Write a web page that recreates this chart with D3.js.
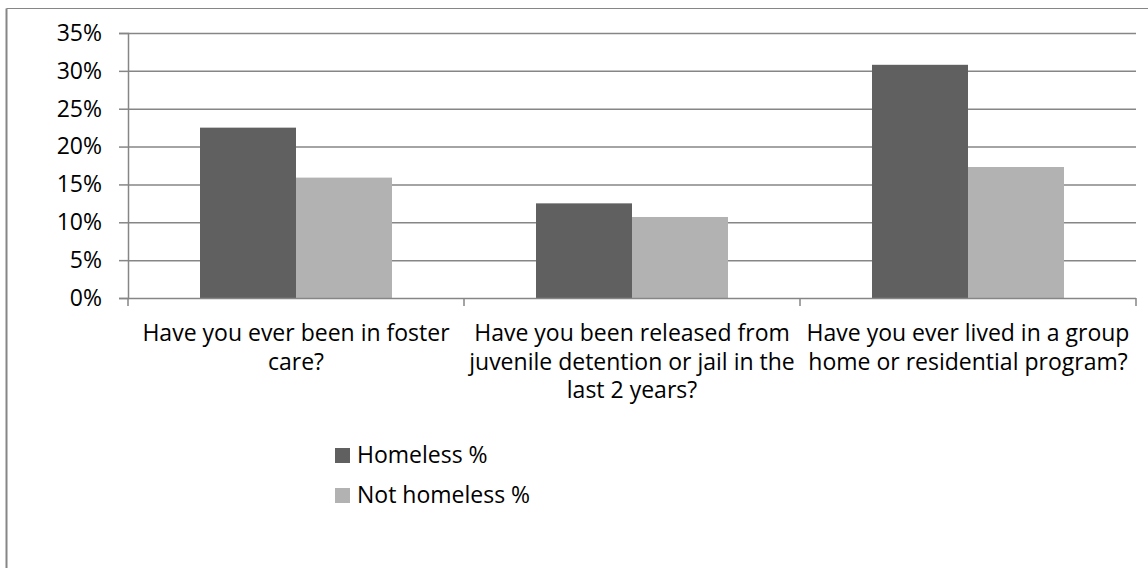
<!DOCTYPE html>
<html>
<head>
<meta charset="utf-8">
<script src="https://cdn.jsdelivr.net/npm/d3@7"></script>
<style>
  html, body { margin: 0; padding: 0; background: #fff; }
  svg { display: block; }
  text { font-family: "Open Sans", Lato, sans-serif; fill: #000; }
</style>
</head>
<body>
<svg id="chart" width="1148" height="568"></svg>
<script>
const categories = [
  ["Have you ever been in foster", "care?"],
  ["Have you been released from", "juvenile detention or jail in the", "last 2 years?"],
  ["Have you ever lived in a group", "home or residential program?"]
];
const seriesNames = ["Homeless %", "Not homeless %"];
const homeless = [22.5, 12.5, 30.8];
const notHomeless = [15.9, 10.7, 17.3];
const yTicks = [0, 5, 10, 15, 20, 25, 30, 35];
const colors = ["#606060", "#b2b2b2"];

const svg = d3.select("#chart");
const W = 1148, H = 568;
const plot = {left: 128, right: 1136, top: 33, bottom: 298};
const gridColor = "#868686";
const FS = 23;

// outer border (top and left visible)
svg.append("line").attr("x1", 6.5).attr("x2", W).attr("y1", 8.5).attr("y2", 8.5)
  .attr("stroke", gridColor).attr("stroke-width", 1);
svg.append("line").attr("x1", 6.5).attr("x2", 6.5).attr("y1", 8.5).attr("y2", H)
  .attr("stroke", gridColor).attr("stroke-width", 2);

const y = d3.scaleLinear().domain([0, 35]).range([plot.bottom, plot.top]);
const x0 = d3.scaleBand().domain(d3.range(categories.length)).range([plot.left, plot.right]).paddingInner(0).paddingOuter(0);
const x1 = d3.scaleBand().domain(d3.range(seriesNames.length)).range([0, x0.bandwidth()]).paddingInner(0).paddingOuter(0.75);

// gridlines
svg.append("g").selectAll("line").data(yTicks.filter(d => d > 0)).join("line")
  .attr("x1", plot.left).attr("x2", plot.right)
  .attr("y1", d => y(d) + 0.5).attr("y2", d => y(d) + 0.5)
  .attr("stroke", gridColor).attr("stroke-width", 1.5);

// y axis
const yAxis = d3.axisLeft(y).tickValues(yTicks).tickFormat(d => d + "%").tickSize(9).tickPadding(17);
const gy = svg.append("g").attr("transform", `translate(${plot.left},0)`).call(yAxis);
gy.select(".domain").attr("stroke", gridColor).attr("stroke-width", 1.5);
gy.selectAll(".tick line").attr("stroke", gridColor).attr("stroke-width", 1.5);
gy.selectAll(".tick text").attr("font-size", FS).attr("fill", "#000")
  .style("font-family", "'Open Sans', Lato, sans-serif");

// bars
const series = [homeless, notHomeless];
const g = svg.append("g");
categories.forEach((c, i) => {
  series.forEach((s, j) => {
    g.append("rect")
      .attr("x", x0(i) + x1(j))
      .attr("y", y(s[i]))
      .attr("width", x1.bandwidth())
      .attr("height", y(0) - y(s[i]))
      .attr("fill", colors[j]);
  });
});

// x axis
const xAxisLine = svg.append("g");
xAxisLine.append("line").attr("x1", plot.left).attr("x2", plot.right)
  .attr("y1", plot.bottom + 0.5).attr("y2", plot.bottom + 0.5)
  .attr("stroke", gridColor).attr("stroke-width", 1.5);
const boundaries = d3.range(categories.length + 1).map(i => i < categories.length ? x0(i) : x0(i - 1) + x0.bandwidth());
xAxisLine.selectAll(".xt").data(boundaries).join("line")
  .attr("x1", d => d).attr("x2", d => d)
  .attr("y1", plot.bottom).attr("y2", plot.bottom + 8)
  .attr("stroke", gridColor).attr("stroke-width", 1.5);

// category labels
categories.forEach((lines, i) => {
  const t = svg.append("text")
    .attr("x", x0(i) + x0.bandwidth() / 2)
    .attr("y", 341)
    .attr("text-anchor", "middle")
    .attr("font-size", FS);
  lines.forEach((ln, k) => {
    t.append("tspan").attr("x", x0(i) + x0.bandwidth() / 2).attr("dy", k === 0 ? 0 : 28.5).text(ln);
  });
});

// legend
const legend = svg.append("g");
seriesNames.forEach((n, j) => {
  legend.append("rect").attr("x", 335).attr("y", 448 + j * 40).attr("width", 15).attr("height", 15).attr("fill", colors[j]);
  legend.append("text").attr("x", 357).attr("y", 463 + j * 40).attr("font-size", FS).text(n);
});
</script>
</body>
</html>
